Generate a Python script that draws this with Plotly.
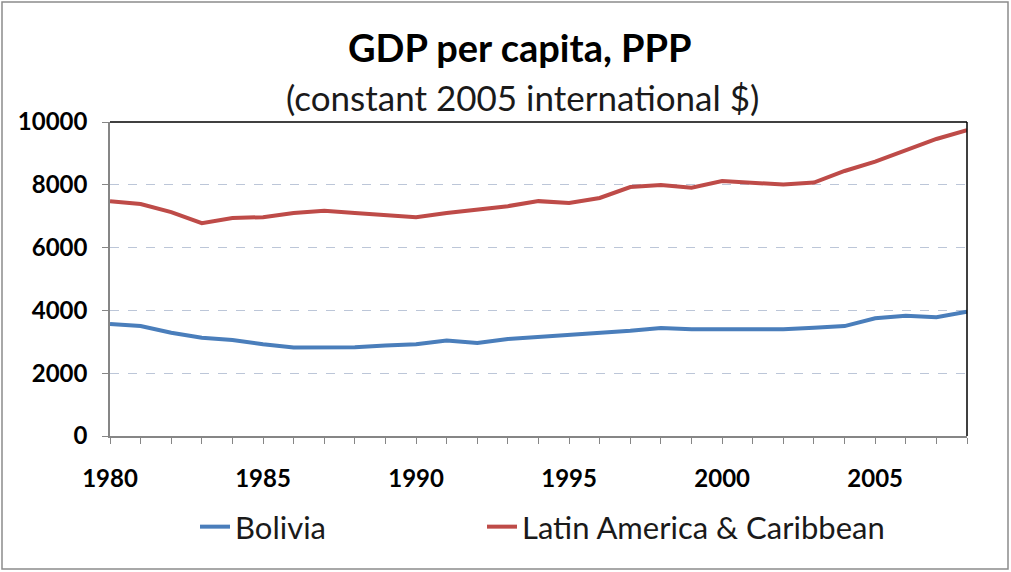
import plotly.graph_objects as go

years = list(range(1980, 2009))
bolivia = [3570, 3500, 3290, 3130, 3060, 2920, 2820, 2830, 2830, 2880,
           2920, 3040, 2960, 3090, 3150, 3210, 3300, 3350, 3440, 3400,
           3400, 3400, 3400, 3450, 3500, 3750, 3830, 3780, 3960]
latam = [7480, 7390, 7130, 6780, 6940, 6970, 7100, 7170, 7100, 7040,
         6970, 7100, 7200, 7320, 7480, 7420, 7580, 7930, 7990, 7910,
         8120, 8070, 8010, 8070, 8440, 8740, 9110, 9460, 9740]
y_ticks = [0, 2000, 4000, 6000, 8000, 10000]
x_ticks = [1980, 1985, 1990, 1995, 2000, 2005]

FONT = "Lato"

fig = go.Figure()
fig.add_trace(go.Scatter(x=years, y=bolivia, mode="lines", name="Bolivia",
                         line=dict(color="#4A7EBB", width=4), legend="legend"))
fig.add_trace(go.Scatter(x=years, y=latam, mode="lines", name="Latin America & Caribbean",
                         line=dict(color="#BE4B48", width=4), legend="legend2"))

L, R, T, B = 110, 44, 122, 136
W, H = 1011, 572
pw, ph = W - L - R, H - T - B

def px(x):
    return (x - L) / pw

def py(y):
    return (H - B - y) / ph

legend_font = dict(family=FONT, size=31, color="#1a1a1a")

fig.update_layout(
    width=W, height=H,
    margin=dict(l=L, r=R, t=T, b=B),
    paper_bgcolor="white", plot_bgcolor="white",
    showlegend=True,
    legend=dict(orientation="h", x=px(195), xanchor="left", y=py(527), yanchor="middle",
                font=legend_font, bgcolor="rgba(0,0,0,0)"),
    legend2=dict(orientation="h", x=px(482), xanchor="left", y=py(527), yanchor="middle",
                 font=legend_font, bgcolor="rgba(0,0,0,0)"),
    xaxis=dict(range=[1980, 2008], tickvals=x_ticks, ticktext=[str(v) for v in x_ticks],
               showgrid=False, zeroline=False,
               showline=True, linecolor="#868686", linewidth=1.5,
               ticks="outside", ticklen=6, tickcolor="#868686",
               minor=dict(ticks="outside", ticklen=6, tickcolor="#868686", dtick=1, showgrid=False),
               tickfont=dict(family=FONT, size=24, color="black", weight="bold"),
               ticklabelstandoff=14),
    yaxis=dict(range=[0, 10000], tickvals=y_ticks, ticktext=[str(v) for v in y_ticks],
               showgrid=True, gridcolor="#BCC6D8", griddash="dash", gridwidth=1,
               zeroline=False, showline=True, linecolor="#868686", linewidth=1.5,
               ticks="outside", ticklen=6, tickcolor="#868686",
               tickfont=dict(family=FONT, size=24, color="black", weight="bold"),
               ticklabelstandoff=10),
    annotations=[
        dict(text="<b>GDP per capita, PPP</b>", x=px(520), y=py(47), xref="paper", yref="paper",
             showarrow=False, font=dict(family=FONT, size=38, color="black"),
             xanchor="center", yanchor="middle"),
        dict(text="(constant 2005 international $)", x=px(522), y=py(97), xref="paper", yref="paper",
             showarrow=False, font=dict(family=FONT, size=35, color="#1a1a1a"),
             xanchor="center", yanchor="middle"),
    ],
    shapes=[
        dict(type="line", xref="paper", yref="paper", x0=0, x1=1, y0=1, y1=1,
             line=dict(color="black", width=1.5)),
        dict(type="line", xref="paper", yref="paper", x0=1, x1=1, y0=0, y1=1,
             line=dict(color="black", width=1.5)),
        dict(type="rect", xref="paper", yref="paper",
             x0=px(2), x1=px(1008), y0=py(569), y1=py(2),
             line=dict(color="#8c8c8c", width=1.5)),
    ],
)

fig.write_html("out.html", config={"displayModeBar": False},
               post_script="document.body.style.margin='0';")
